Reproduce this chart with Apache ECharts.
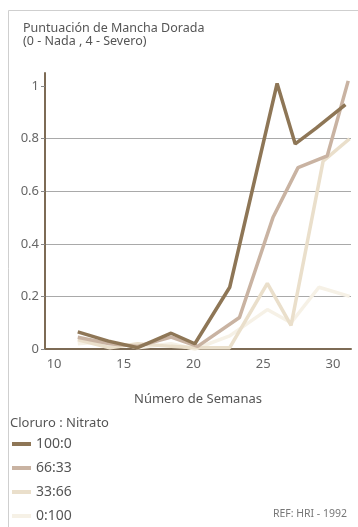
<!DOCTYPE html>
<html>
<head>
<meta charset="utf-8">
<title>Mancha Dorada</title>
<script src="https://cdn.jsdelivr.net/npm/echarts@6.0.0/dist/echarts.min.js"></script>
<style>
  html, body { margin: 0; padding: 0; background: #fff; }
  #main { width: 358px; height: 527px; }
</style>
</head>
<body>
<div id="main"></div>
<script>
// semanas / puntuacion
var serie100_0 = [[11.7, 0.065], [13.9, 0.03], [16, 0.005], [18.4, 0.06], [20.1, 0.02], [22.6, 0.235], [26, 1.01], [27.3, 0.78], [28.8, 0.84], [30.9, 0.93]];
var serie66_33 = [[11.7, 0.045], [14, 0.02], [16, 0.01], [18.4, 0.045], [20.3, 0.01], [23.3, 0.12], [25.7, 0.5], [27.5, 0.69], [29.6, 0.735], [31.1, 1.02]];
var serie33_66 = [[11.7, 0.035], [14, 0.005], [16, 0.02], [18.4, 0.01], [20.1, 0.005], [22.6, 0.005], [25.3, 0.25], [27, 0.09], [29.3, 0.715], [31.2, 0.8]];
var serie0_100 = [[11.7, 0.02], [14, 0.03], [16, 0.005], [18.4, 0.02], [20.1, 0.0], [22.6, 0.05], [25.3, 0.15], [27, 0.1], [29, 0.235], [31.2, 0.2]];

var nombres = ['100:0', '66:33', '33:66', '0:100'];
var colores = ['#8e7656', '#c9b3a2', '#eadfcb', '#f6f1e6'];
var xTicks = [10, 15, 20, 25, 30];
var yTicks = [0, 0.2, 0.4, 0.6, 0.8, 1];

var fuente = '"Noto Sans", sans-serif';
var chart = echarts.init(document.getElementById('main'));

function linea(i, data) {
  return {
    name: nombres[i],
    type: 'line',
    data: data,
    symbol: 'none',
    clip: false,
    lineStyle: { color: colores[i], width: 3.5 },
    itemStyle: { color: colores[i] },
    z: 5 - i
  };
}

chart.setOption({
  backgroundColor: '#fff',
  animation: false,
  textStyle: { fontFamily: fuente },
  graphic: [
    { type: 'line', shape: { x1: 8.5, y1: 10.5, x2: 358, y2: 10.5 }, style: { stroke: '#cfcfcf', lineWidth: 1 } },
    { type: 'line', shape: { x1: 8.5, y1: 10.5, x2: 8.5, y2: 527 }, style: { stroke: '#cfcfcf', lineWidth: 1 } },
    { type: 'text', left: 23, top: 22, style: { text: 'Puntuación de Mancha Dorada\n(0 - Nada , 4 - Severo)', font: '12.5px ' + fuente, fill: '#555', lineHeight: 13 } },
    { type: 'text', left: 10, top: 417, style: { text: 'Cloruro : Nitrato', font: '13px ' + fuente, fill: '#555' } },
    { type: 'text', right: 11, top: 509, style: { text: 'REF: HRI - 1992', font: '10.5px ' + fuente, fill: '#777' } }
  ],
  legend: {
    orient: 'vertical',
    left: 12,
    top: 437,
    padding: 0,
    itemWidth: 19,
    itemHeight: 4,
    itemGap: 10,
    icon: 'rect',
    textStyle: { fontSize: 14, color: '#555', fontFamily: fuente },
    data: nombres
  },
  grid: { left: 45, right: 7, top: 73, bottom: 178 },
  xAxis: {
    type: 'value',
    min: 9.35,
    max: 31.3,
    name: 'Número de Semanas',
    nameLocation: 'middle',
    nameGap: 44,
    nameTextStyle: { fontSize: 13, color: '#555' },
    axisLine: { lineStyle: { color: '#7d6b55', width: 2 } },
    axisTick: { show: false },
    splitLine: { show: false },
    axisLabel: { customValues: xTicks, fontSize: 13, color: '#666', margin: 9 }
  },
  yAxis: {
    type: 'value',
    min: 0,
    max: 1.05,
    axisLine: { show: true, lineStyle: { color: '#7d6b55', width: 2 } },
    axisTick: { show: true, customValues: yTicks, length: 4, lineStyle: { color: '#888' } },
    splitLine: { show: true, showMinLine: false, showMaxLine: false, lineStyle: { color: '#a9a9a9', width: 1 } },
    axisLabel: { customValues: yTicks, fontSize: 13, color: '#666', margin: 6 }
  },
  series: [
    linea(0, serie100_0),
    linea(1, serie66_33),
    linea(2, serie33_66),
    linea(3, serie0_100)
  ]
});
</script>
</body>
</html>
